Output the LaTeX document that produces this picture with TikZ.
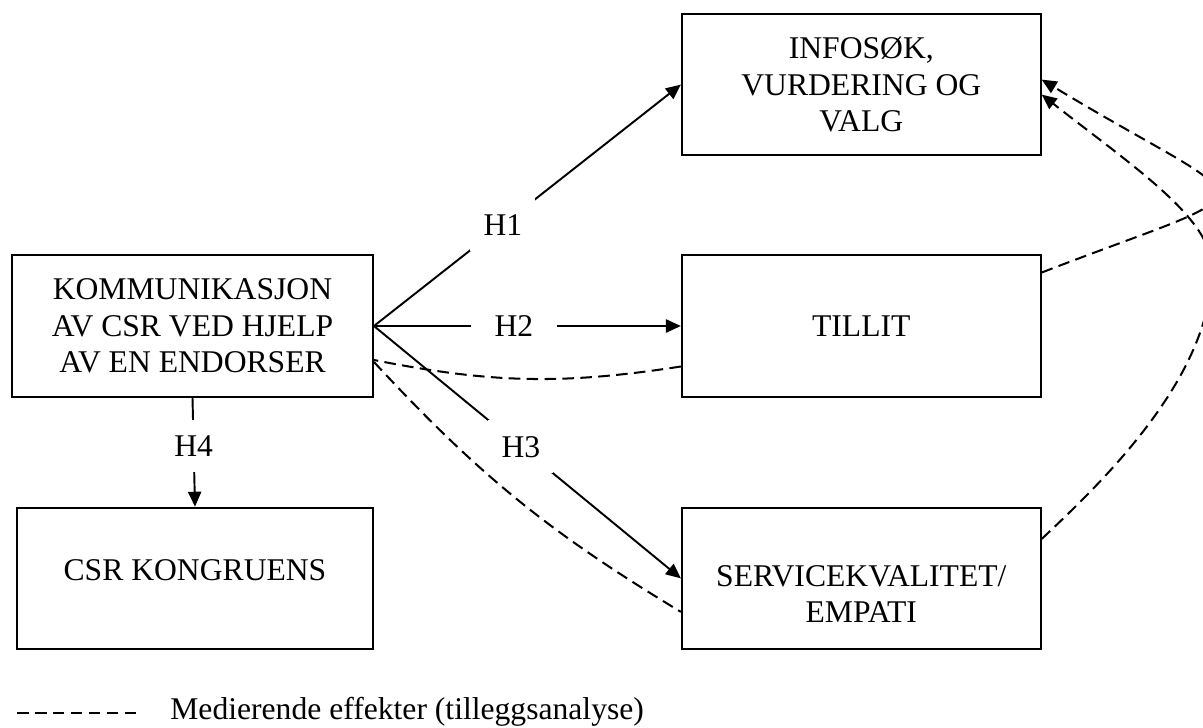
\documentclass[tikz,border=0pt]{standalone}
\usepackage{fontspec}
\setmainfont{Liberation Serif}
\usetikzlibrary{arrows.meta, positioning}

\begin{document}
\begin{tikzpicture}[x=0.02cm, y=-0.02cm,
    every node/.style={font=\fontsize{18pt}{20.7pt}\selectfont},
    >={Triangle[length=8.5pt, width=7.5pt]},
    var_box/.style={rectangle, draw, line width=1.1pt, align=center, minimum width=7.18cm, minimum height=2.83cm, inner sep=0pt},
    h_label/.style={fill=white, inner xsep=7.5pt, inner ysep=9pt},
    effect/.style={line width=1.1pt},
    mediator/.style={line width=1.15pt, dash pattern=on 6.6pt off 3.6pt},
    ]
    \clip (0,0) rectangle (1203,727);

    % Nodes
    \node[var_box, minimum width=7.22cm] (komm) at (192.5,326) {KOMMUNIKASJON\\AV CSR VED HJELP\\AV EN ENDORSER};
    \node[var_box] (tillit) [right=6.14cm of komm] {TILLIT};
    \node[var_box] (info) [above=1.96cm of tillit] {INFOSØK,\\VURDERING OG\\VALG};
    \node[var_box] (service) [below=2.18cm of tillit] {\rule{0pt}{30pt}SERVICEKVALITET/\\EMPATI};
    \node[var_box, minimum width=7.12cm] (csr) [below=2.18cm of komm, xshift=0.05cm] {\rule[-9pt]{0pt}{9pt}CSR KONGRUENS};

    % Mediating paths
    \draw[mediator] ([yshift=-0.81cm]tillit.west) to[bend left=10] ([yshift=-0.68cm]komm.east);
    \draw[mediator] ([yshift=-0.72cm]komm.east) to[bend right=8] ([yshift=-0.67cm]service.west);
    \draw[mediator, ->] ([yshift=1.07cm]tillit.east) .. controls (1281,180) and (1265,215) .. ([yshift=0.1cm]info.east);
    \coordinate (turn) at (1212,268);
    \draw[mediator, ->] ([yshift=0.79cm]service.east) .. controls (1100,484) and (1212,378) .. (turn)
        .. controls (1212,218) and (1131,165) .. ([yshift=-0.2cm]info.east);

    % Hypotheses
    \draw[effect, ->] (komm.east) -- node[h_label, pos=0.42] (h1) {H1} (info.west);
    \draw[effect, ->] (komm.east) -- node[h_label, pos=0.456, inner xsep=13.5pt] (h2) {H2} (tillit.west);
    \draw[effect, ->] (komm.east) -- node[h_label, pos=0.479] (h3) {H3} (service.west);
    \draw[effect, ->] (komm.south) -- node[h_label, pos=0.445] (h4) {H4} (csr.north);

    % Legend
    \coordinate (leg_a) at (17,713);
    \coordinate (leg_b) at (137,713);
    \draw[mediator] (leg_a) -- (leg_b);
    \node[anchor=base west, inner sep=0pt] (legend) at (170,719) {Medierende effekter (tilleggsanalyse)};
\end{tikzpicture}
\end{document}
